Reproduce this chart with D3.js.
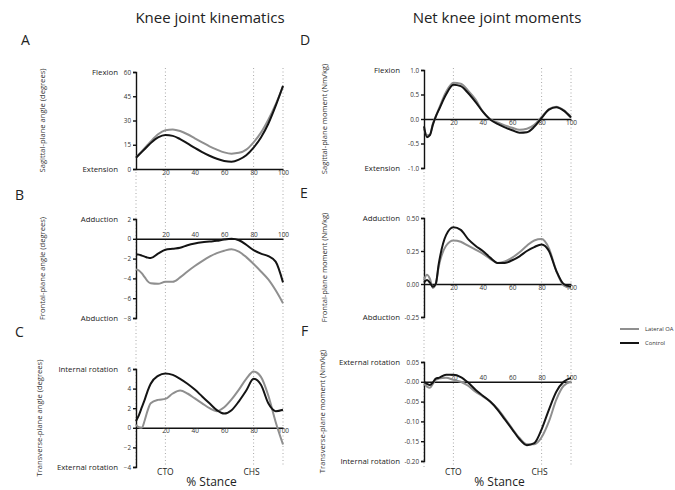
<!DOCTYPE html>
<html>
<head>
<meta charset="UTF-8">
<title>Knee joint kinematics and moments</title>
<script src="https://cdn.jsdelivr.net/npm/d3@7/dist/d3.min.js"></script>
<style>
  body { margin: 0; background: #fff; }
  svg { font-family: "Open Sans", "DejaVu Sans", sans-serif; }
  .tick text { fill: #333; }
</style>
</head>
<body>
<svg id="fig" width="675" height="490"></svg>
<script>

// % stance sample points shared by every curve
var stance = [0, 2, 4, 6, 8, 10, 15, 20, 25, 30, 35, 40, 45, 50, 55, 60, 65, 70, 75, 80, 85, 90, 95, 100];

// A - sagittal-plane angle (degrees)
var sagAngleOA  = [7, 9, 11, 13, 15, 17, 21.5, 24, 24.5, 23.5, 21.5, 19, 16.5, 14, 12, 10.3, 9.5, 10, 12, 16.5, 22.5, 30.5, 40, 51];
var sagAngleCtl = [7, 8.8, 10.6, 12.4, 14.2, 16, 19.5, 21, 20.5, 18.5, 15.8, 13, 10.5, 8.2, 6.3, 5, 4.5, 5.8, 8.5, 13.2, 19.5, 28, 39, 51.5];

// B - frontal-plane angle (degrees)
var froAngleOA  = [-3.1, -3.2, -3.5, -3.9, -4.3, -4.5, -4.55, -4.35, -4.35, -3.9, -3.3, -2.75, -2.25, -1.8, -1.45, -1.2, -1.05, -1.3, -1.85, -2.55, -3.3, -4.1, -5.2, -6.5];
var froAngleCtl = [-1.55, -1.6, -1.7, -1.8, -1.9, -1.95, -1.5, -1.1, -1.0, -0.9, -0.65, -0.47, -0.35, -0.28, -0.2, -0.07, 0.0, -0.15, -0.6, -1.15, -1.5, -1.75, -2.3, -4.4];

// C - transverse-plane angle (degrees)
var traAngleOA  = [0.3, 0.05, 0.0, 0.8, 1.8, 2.5, 2.85, 2.95, 3.5, 3.8, 3.5, 3.0, 2.5, 2.0, 1.7, 2.1, 2.9, 3.9, 5.0, 5.75, 5.2, 3.3, 0.6, -1.7];
var traAngleCtl = [0.7, 1.3, 2.1, 2.9, 3.8, 4.5, 5.3, 5.55, 5.4, 5.0, 4.5, 3.9, 3.2, 2.5, 1.8, 1.45, 1.8, 2.7, 3.8, 5.0, 4.4, 2.5, 1.7, 1.85];

// D - sagittal-plane moment (Nm/kg)
var sagMomOA  = [-0.2, -0.33, -0.32, -0.1, 0.05, 0.2, 0.55, 0.74, 0.72, 0.58, 0.4, 0.15, 0.0, -0.07, -0.13, -0.18, -0.22, -0.2, -0.12, 0.04, 0.2, 0.25, 0.18, 0.04];
var sagMomCtl = [-0.15, -0.37, -0.33, -0.12, 0.05, 0.18, 0.5, 0.7, 0.67, 0.53, 0.35, 0.15, -0.01, -0.1, -0.17, -0.23, -0.28, -0.27, -0.16, 0.02, 0.19, 0.24, 0.17, 0.03];

// E - frontal-plane moment (Nm/kg)
var froMomOA  = [0.03, 0.07, 0.04, -0.03, 0.0, 0.13, 0.29, 0.33, 0.32, 0.29, 0.26, 0.23, 0.19, 0.16, 0.17, 0.2, 0.24, 0.29, 0.33, 0.34, 0.27, 0.1, -0.01, -0.03];
var froMomCtl = [0.01, 0.03, 0.01, -0.02, 0.0, 0.15, 0.37, 0.43, 0.41, 0.34, 0.29, 0.25, 0.2, 0.16, 0.16, 0.18, 0.21, 0.25, 0.28, 0.3, 0.25, 0.1, 0.0, -0.02];

// F - transverse-plane moment (Nm/kg)
var traMomOA  = [-0.005, -0.012, -0.015, -0.005, 0.005, 0.008, 0.01, 0.005, 0.0, -0.01, -0.025, -0.037, -0.05, -0.068, -0.092, -0.118, -0.142, -0.158, -0.158, -0.14, -0.1, -0.045, -0.01, 0.0];
var traMomCtl = [0.0, -0.005, -0.008, -0.002, 0.008, 0.01, 0.018, 0.018, 0.012, -0.002, -0.02, -0.035, -0.05, -0.07, -0.095, -0.12, -0.145, -0.16, -0.155, -0.12, -0.07, -0.025, 0.0, 0.01];

// tick values and their labels
var xTicks = [20, 40, 60, 80, 100];
var eventMarks = [0, 20, 80, 100];
var eventNames = ["CTO", "CHS"];

var sagAngleTicks = [0, 15, 30, 45, 60];
var froAngleTicks = [-8, -6, -4, -2, 0, 2];
var traAngleTicks = [-4, -2, 0, 2, 4, 6];
var sagMomTicks = [-1, -0.5, 0, 0.5, 1];
var sagMomLabels = ["-1.0", "-0.5", "0.0", "0.5", "1.0"];
var froMomTicks = [-0.25, 0, 0.25, 0.5];
var froMomLabels = ["-0.25", "0.00", "0.25", "0.50"];
var traMomTicks = [-0.2, -0.15, -0.1, -0.05, 0, 0.05];
var traMomLabels = ["-0.20", "-0.15", "-0.10", "-0.05", "-0.00", "0.05"];

var seriesNames = ["Lateral OA", "Control"];
var seriesColors = ["#8f8f8f", "#141414"];

var svg = d3.select("#fig");

// two columns share the same stance scale, just shifted
var xLeft = d3.scaleLinear().domain([0, 100]).range([136, 283]);
var xRight = d3.scaleLinear().domain([0, 100]).range([424, 571]);

var panels = [
    {letter: "A", lx: 21, ly: 45, x: xLeft, dom: [0, 60], rng: [169, 72], ticks: sagAngleTicks,
     title: "Sagittal-plane angle (degrees)", tx: 45, hi: "Flexion", lo: "Extension",
     oa: sagAngleOA, ctl: sagAngleCtl, above: false},
    {letter: "B", lx: 15, ly: 200, x: xLeft, dom: [-8, 2], rng: [318, 219], ticks: froAngleTicks,
     title: "Frontal-plane angle (degrees)", tx: 45, hi: "Adduction", lo: "Abduction",
     oa: froAngleOA, ctl: froAngleCtl, above: true},
    {letter: "C", lx: 15, ly: 337, x: xLeft, dom: [-4, 6], rng: [467, 369], ticks: traAngleTicks,
     title: "Transverse-plane angle (degrees)", tx: 42, hi: "Internal rotation", lo: "External rotation",
     oa: traAngleOA, ctl: traAngleCtl, above: false},
    {letter: "D", lx: 300, ly: 45, x: xRight, dom: [-1, 1], rng: [168, 70], ticks: sagMomTicks, labels: sagMomLabels,
     title: "Sagittal-plane moment (Nm/kg)", tx: 327, hi: "Flexion", lo: "Extension",
     oa: sagMomOA, ctl: sagMomCtl, above: false},
    {letter: "E", lx: 300, ly: 198, x: xRight, dom: [-0.25, 0.5], rng: [317, 218], ticks: froMomTicks, labels: froMomLabels,
     title: "Frontal-plane moment (Nm/kg)", tx: 327, hi: "Adduction", lo: "Abduction",
     oa: froMomOA, ctl: froMomCtl, above: false},
    {letter: "F", lx: 301, ly: 336, x: xRight, dom: [-0.2, 0.05], rng: [461, 362], ticks: traMomTicks, labels: traMomLabels,
     title: "Transverse-plane moment (Nm/kg)", tx: 325, hi: "External rotation", lo: "Internal rotation",
     oa: traMomOA, ctl: traMomCtl, above: true}
];

// column titles
svg.append("text").attr("x", 210).attr("y", 23).attr("text-anchor", "middle")
    .attr("font-size", 15).attr("fill", "#222").text("Knee joint kinematics");
svg.append("text").attr("x", 497).attr("y", 23).attr("text-anchor", "middle")
    .attr("font-size", 15).attr("fill", "#222").text("Net knee joint moments");

// dotted event lines, drawn first so the curves sit on top
[xLeft, xRight].forEach(function(x) {
    svg.selectAll(null).data(eventMarks).enter().append("line")
        .attr("x1", function(d) { return x(d); })
        .attr("x2", function(d) { return x(d); })
        .attr("y1", function(d) { return d === 0 ? 172 : 68; })
        .attr("y2", 467)
        .attr("stroke", "#a8a8a8")
        .attr("stroke-width", 1)
        .attr("stroke-dasharray", "1,2.5");
});

panels.forEach(function(p) {
    var y = d3.scaleLinear().domain(p.dom).range(p.rng);
    var x = p.x;
    var x0 = x.range()[0];
    var g = svg.append("g");
    // side labels sit a bit further out on the moment column
    var sideGap = (x === xRight) ? 24 : 18;

    // panel letter
    g.append("text").attr("x", p.lx).attr("y", p.ly)
        .attr("font-size", 14).attr("fill", "#222").text(p.letter);

    // y axis
    var yAxis = d3.axisLeft(y).tickValues(p.ticks).tickSize(3).tickSizeOuter(3).tickPadding(2);
    if (p.labels) yAxis.tickFormat(function(d, i) { return p.labels[i]; });
    var ya = g.append("g").attr("transform", "translate(" + x0 + ",0)").call(yAxis);
    ya.selectAll("text").attr("font-size", 6.3).attr("font-family", "Open Sans");
    ya.selectAll("path, line").attr("stroke", "#111").attr("stroke-width", 1.4);

    // x axis along zero
    var xAxis = (p.above ? d3.axisTop(x) : d3.axisBottom(x))
        .tickValues(xTicks).tickSize(0).tickSizeOuter(0).tickPadding(p.above ? 2 : 1);
    var xa = g.append("g").attr("transform", "translate(0," + y(0) + ")").call(xAxis);
    xa.selectAll("text").attr("font-size", 6.5).attr("font-family", "Open Sans");
    xa.select("path").attr("stroke", "#111").attr("stroke-width", 1.4);

    // end labels
    g.append("text").attr("x", x0 - sideGap).attr("y", y(p.dom[1]) + 3)
        .attr("text-anchor", "end").attr("font-size", 7.8).attr("fill", "#222").text(p.hi);
    g.append("text").attr("x", x0 - sideGap).attr("y", y(p.dom[0]) + 3)
        .attr("text-anchor", "end").attr("font-size", 7.8).attr("fill", "#222").text(p.lo);

    // y title
    var midY = (p.rng[0] + p.rng[1]) / 2;
    g.append("text")
        .attr("transform", "translate(" + p.tx + "," + midY + ") rotate(-90)")
        .attr("text-anchor", "middle").attr("font-size", 7.6).attr("fill", "#333")
        .text(p.title);

    // curves
    var line = d3.line()
        .x(function(d, i) { return x(stance[i]); })
        .y(function(d) { return y(d); })
        .curve(d3.curveMonotoneX);
    [p.oa, p.ctl].forEach(function(vals, k) {
        g.append("path").datum(vals)
            .attr("d", line)
            .attr("fill", "none")
            .attr("stroke", seriesColors[k])
            .attr("stroke-width", 2);
    });

    // event names under the bottom row
    if (p.letter === "C" || p.letter === "F") {
        g.append("text").attr("x", x(20)).attr("y", 475).attr("text-anchor", "middle")
            .attr("font-size", 8.5).attr("fill", "#222").text(eventNames[0]);
        g.append("text").attr("x", x(80) - 2).attr("y", 475).attr("text-anchor", "middle")
            .attr("font-size", 8.5).attr("fill", "#222").text(eventNames[1]);
        g.append("text").attr("x", (x(0) + x(100)) / 2 + 2).attr("y", 486).attr("text-anchor", "middle")
            .attr("font-size", 12).attr("fill", "#222").text("% Stance");
    }
});

// legend
var legend = svg.append("g").attr("transform", "translate(620,329)");
seriesNames.forEach(function(name, i) {
    legend.append("line").attr("x1", 0).attr("x2", 19)
        .attr("y1", i * 14).attr("y2", i * 14)
        .attr("stroke", seriesColors[i]).attr("stroke-width", 2);
    legend.append("text").attr("x", 25).attr("y", i * 14 + 2)
        .attr("font-size", 5.8).attr("fill", "#333").text(name);
});

</script>
</body>
</html>
